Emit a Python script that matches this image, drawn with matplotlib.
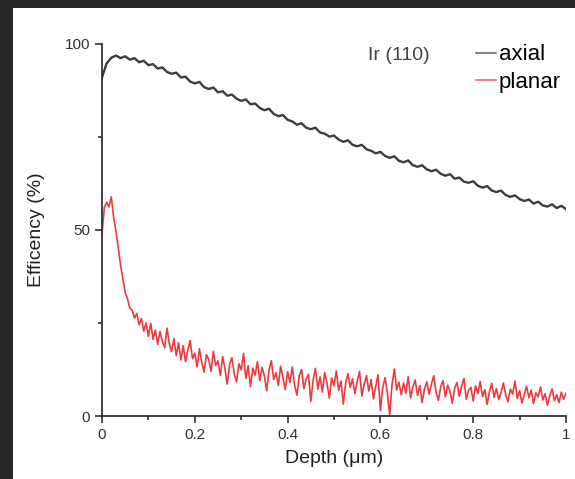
import numpy as np
import matplotlib
matplotlib.use("Agg")
import matplotlib.pyplot as plt
from matplotlib.patches import Rectangle
from matplotlib.ticker import MultipleLocator

plt.rcParams['font.family'] = ['Liberation Sans', 'DejaVu Sans']

# axial channeling efficiency, depth 0..1 um every 0.01
axial = [
    91.0, 94.8, 96.3, 96.9, 96.2, 96.7, 95.8, 96.2, 95.1, 95.5,
    94.3, 94.6, 93.4, 93.7, 92.5, 92.0, 92.3, 91.0, 91.2, 89.9,
    89.4, 89.8, 88.4, 87.9, 88.3, 87.0, 87.3, 86.1, 86.4, 85.3,
    84.7, 85.1, 83.8, 84.0, 82.8, 82.2, 82.6, 81.2, 80.6, 80.9,
    79.6, 79.2, 78.3, 78.7, 77.5, 77.1, 77.5, 76.2, 75.9, 75.1,
    75.4, 74.3, 73.7, 74.1, 72.9, 72.5, 72.9, 71.7, 71.3, 70.6,
    71.0, 69.9, 69.4, 69.8, 68.6, 68.2, 68.7, 67.4, 67.0, 67.4,
    66.3, 65.8, 66.2, 65.1, 64.6, 65.0, 63.8, 64.1, 63.0, 62.7,
    63.1, 61.9, 61.4, 61.8, 60.6, 60.2, 60.6, 59.4, 58.9, 59.3,
    58.3, 57.8, 58.2, 57.1, 57.6, 56.6, 56.3, 56.9, 55.9, 56.5,
    55.6,
]
depth_axial = np.linspace(0, 1, len(axial))

# planar channeling efficiency, depth 0..1 um every 0.005
planar = [
    49.0, 56.0, 57.5, 56.2, 58.9, 53.5, 49.8, 45.1, 40.6, 36.9,
    33.2, 31.5, 29.0, 28.4, 26.3, 27.6, 24.5, 26.2, 22.8, 25.0,
    21.4, 24.9, 20.6, 23.1, 19.2, 22.7, 20.0, 18.4, 23.6, 19.5,
    17.3, 20.8, 16.2, 19.7, 15.1, 18.9, 14.6, 17.8, 20.3, 15.4,
    16.9, 13.2, 18.1, 14.4, 11.8, 16.5, 15.2, 12.0, 17.4, 13.6,
    14.8, 10.9, 16.0, 12.7, 8.6, 13.9, 15.7, 11.3, 9.2, 14.1,
    12.4, 16.8, 10.1, 13.5, 7.9, 12.9, 11.0, 14.6, 9.5, 13.1,
    10.7, 6.8, 12.3, 14.9, 9.8, 11.6, 8.2, 13.4, 10.4, 7.1,
    11.9, 9.0, 13.2, 8.3, 5.6, 10.8, 12.5, 7.4, 9.9, 11.2,
    3.9, 9.6, 12.8, 7.2, 10.5, 6.4, 11.7, 8.8, 4.8, 10.2,
    8.1, 12.1, 6.9, 9.4, 3.2, 8.7, 11.4, 7.7, 10.0, 6.0,
    9.3, 12.0, 5.4, 8.5, 10.9, 6.7, 9.8, 4.6, 8.0, 11.1,
    1.5, 7.6, 10.3, 6.2, 0.2, 8.4, 12.6, 7.0, 9.1, 5.7,
    8.9, 6.1, 10.6, 4.9, 7.8, 9.7, 5.5, 8.2, 3.6, 7.3,
    9.2, 5.9, 8.6, 10.8, 6.3, 4.2, 7.9, 9.5, 5.1, 8.3,
    6.6, 3.4, 7.5, 9.0, 5.3, 8.0, 10.1, 4.5, 6.9, 7.7,
    4.0, 8.1, 6.0, 9.3, 5.2, 7.1, 3.1, 6.5, 8.8, 5.0,
    7.4, 4.4, 6.3, 8.9, 5.6, 3.8, 7.2, 5.9, 9.4, 4.7,
    6.8, 3.5, 5.8, 8.0, 4.9, 7.0, 3.3, 6.2, 5.1, 7.8,
    4.3, 6.0, 2.9, 5.5, 7.3, 4.1, 5.7, 3.6, 6.4, 4.5,
    6.2,
]
depth_planar = np.linspace(0, 1, len(planar))

fig = plt.figure(figsize=(5.75, 4.79), dpi=100)
fig.patch.set_facecolor('#262626')
# white page inside the dark frame
fig.patches.append(Rectangle((13 / 575, 0), 1, 471 / 479, transform=fig.transFigure,
                             facecolor='white', edgecolor='none', zorder=-10))

ax = fig.add_axes([102 / 575, 63 / 479, 464 / 575, 372 / 479])
ax.set_facecolor('none')

ax.plot(depth_axial, axial, color='#3d3d3d', lw=1.7, label='axial')
ax.plot(depth_planar, planar, color='#ec3a3f', lw=1.2, label='planar')

ax.set_xlim(0, 1)
ax.set_ylim(0, 100)
ax.set_xticks([0, 0.2, 0.4, 0.6, 0.8, 1])
ax.set_xticklabels(['0', '0.2', '0.4', '0.6', '0.8', '1'])
ax.xaxis.set_minor_locator(MultipleLocator(0.1))
ax.yaxis.set_major_locator(MultipleLocator(50))
ax.yaxis.set_minor_locator(MultipleLocator(25))

for s in ['top', 'right']:
    ax.spines[s].set_visible(False)
for s in ['left', 'bottom']:
    ax.spines[s].set_linewidth(1.2)
    ax.spines[s].set_color('#222222')

ax.tick_params(which='major', direction='out', length=5, width=1.1, color='#222222',
               labelsize=11, labelcolor='#333333')
ax.tick_params(which='minor', direction='out', length=3, width=1.1, color='#222222')

ax.set_xlabel('Depth (\u03bcm)', fontsize=14, color='#222222', labelpad=6)
ax.set_ylabel('Efficency (%)', fontsize=14, color='#222222', labelpad=14)

ax.text(0.573, 0.97, 'Ir (110)', transform=ax.transAxes, fontsize=14,
        color='#444444', va='center', ha='left')

leg = ax.legend(loc='upper left', bbox_to_anchor=(0.783, 1.029), frameon=False,
                fontsize=16, handlelength=0.9, handletextpad=0.1, borderpad=0,
                labelspacing=0.3)
for h in leg.get_lines():
    h.set_linewidth(1.2)
    h.set_alpha(0.75)

plt.savefig('out.png', dpi=100, facecolor=fig.get_facecolor())
